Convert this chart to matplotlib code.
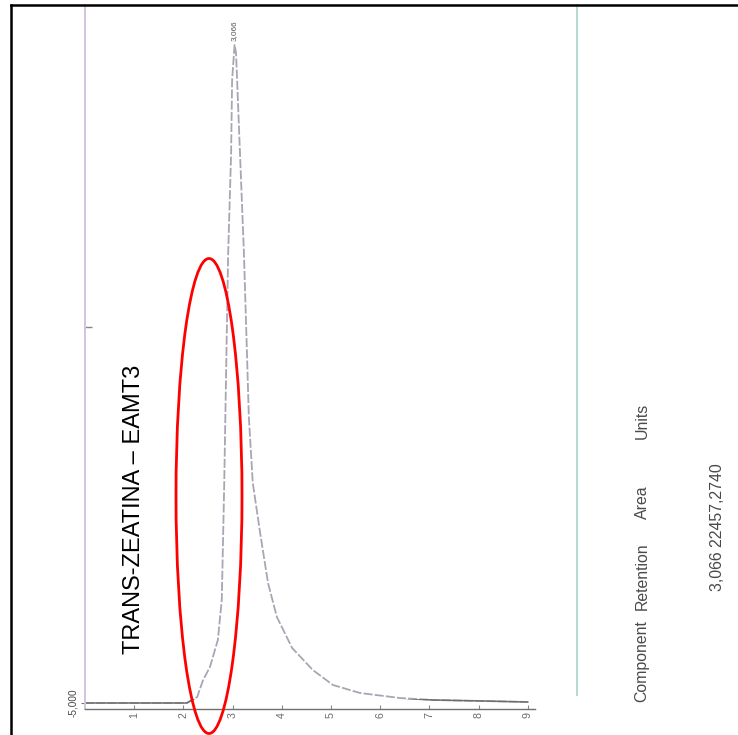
import matplotlib
matplotlib.use("Agg")
import matplotlib.pyplot as plt
from matplotlib.patches import Ellipse, Rectangle
from matplotlib.lines import Line2D
from matplotlib import font_manager

# ---- data ----
time_min = [0.0, 1.0, 2.07, 2.28, 2.40, 2.54, 2.70, 2.78, 2.83, 2.87, 2.91, 2.97,
            2.99, 3.04, 3.07, 3.15, 3.23, 3.29, 3.33, 3.41, 3.56, 3.72, 3.90, 4.21,
            4.63, 5.04, 5.59, 6.40, 7.07, 8.09, 9.00]
signal = [-5000, -5000, -5000, 1000, 18000, 31000, 58000, 98000, 215000, 331000,
          445000, 545000, 618000, 653000, 645000, 545000, 445000, 348000, 281000,
          215000, 165000, 115000, 81000, 50000, 28000, 13000, 5000, 0, -2000,
          -3000, -4000]
x_ticks = [1, 2, 3, 4, 5, 6, 7, 8, 9]
x_tick_labels = ["1", "2", "3", "4", "5", "6", "7", "8", "9"]
y_ticks = [-5000]
y_tick_labels = ["-5,000"]
y_minor_ticks = [371000]
peak_time = 3.04
peak_value = 653000
peak_label = "3,066"
title_text = "TRANS-ZEATINA – EAMT3"
table_headers = ["Component", "Retention", "Area", "Units"]
table_values = "3,066 22457,2740"

names = {f.name for f in font_manager.fontManager.ttflist}
narrow = "Liberation Sans Narrow" in names
nfam = ["Liberation Sans Narrow", "Liberation Sans"] if narrow else ["Liberation Sans"]
nscale = 1.0 if narrow else 0.85

W, H = 738, 735
fig = plt.figure(figsize=(W / 100, H / 100), dpi=100)
fig.patch.set_facecolor("white")

def fx(px):
    return px / W

def fy(py):
    return 1 - py / H

ax = fig.add_axes([fx(85), fy(709), fx(577) - fx(85), fy(5) - fy(709)])
ax.set_facecolor("white")
ax.set_xlim(0, 10)
ax.set_ylim(-11000, 693000)
ax.plot(time_min, signal, color="#aaa5b2", lw=1.3, linestyle=(0, (5, 1.2)))
# darker, solid rendering of the trace where it runs along the baseline
base_line, = ax.plot(time_min, signal, color="#6e6e6e", lw=1.1)
clip = Rectangle((0, -11000), 10, 10000, transform=ax.transData)
base_line.set_clip_path(clip)

ax.spines["top"].set_visible(False)
ax.spines["left"].set_color("#d3c3de")
ax.spines["left"].set_linewidth(1.4)
ax.spines["right"].set_color("#b3dad4")
ax.spines["right"].set_linewidth(1.4)
ax.spines["right"].set_bounds(3000, 693000)
ax.spines["bottom"].set_color("#707070")
ax.spines["bottom"].set_linewidth(1.0)
ax.spines["bottom"].set_bounds(0, 9.15)

ax.set_xticks(x_ticks)
ax.set_xticklabels(x_tick_labels, rotation=90, fontsize=9 * nscale,
                   color="#6a6a6a", family=nfam, va="top", ha="center")
ax.tick_params(axis="x", direction="in", length=3, width=0.8, color="#888888", pad=2)

ax.set_yticks(y_ticks)
ax.set_yticklabels(y_tick_labels, rotation=90, fontsize=8.5 * nscale,
                   color="#444444", family=nfam, va="center", ha="right")
ax.set_yticks(y_minor_ticks, minor=True)
ax.tick_params(axis="y", which="major", direction="out", length=3, width=0.8,
               color="#777777", pad=2)
ax.tick_params(axis="y", which="minor", direction="in", length=5, width=1.0,
               color="#888888")

# peak label
ax.annotate(peak_label, xy=(peak_time, peak_value), xytext=(0, 3),
            textcoords="offset points", rotation=90, ha="center", va="bottom",
            fontsize=7 * nscale, color="#555555", family=nfam)

# title (rotated)
fig.text(fx(134), fy(509), title_text, rotation=90, ha="center", va="center",
         fontsize=17, color="black", family=["Liberation Sans", "DejaVu Sans"])

# result table (rotated)
hdr_pos = [661, 576, 502, 421]
for label, py in zip(table_headers, hdr_pos):
    fig.text(fx(642), fy(py), label, rotation=90, ha="center", va="center",
             fontsize=13.5 * nscale, color="#4a4a4a", family=nfam)
fig.text(fx(718), fy(527), table_values, rotation=90, ha="center", va="center",
         fontsize=13.5 * nscale, color="#4a4a4a", family=nfam)

# red ellipse highlight
fig.patches.append(Ellipse((fx(209), fy(496)), fx(66), 475 / H, fill=False,
                           edgecolor="#ff0000", lw=2.0, transform=fig.transFigure,
                           figure=fig))

# outer black frame
fig.lines.append(Line2D([fx(11), fx(11)], [0, fy(5)], color="black", lw=1.8,
                        transform=fig.transFigure, figure=fig))
fig.lines.append(Line2D([fx(11), 1], [fy(5), fy(5)], color="black", lw=1.8,
                        transform=fig.transFigure, figure=fig))

fig.savefig("out.png", dpi=100, facecolor="white")
